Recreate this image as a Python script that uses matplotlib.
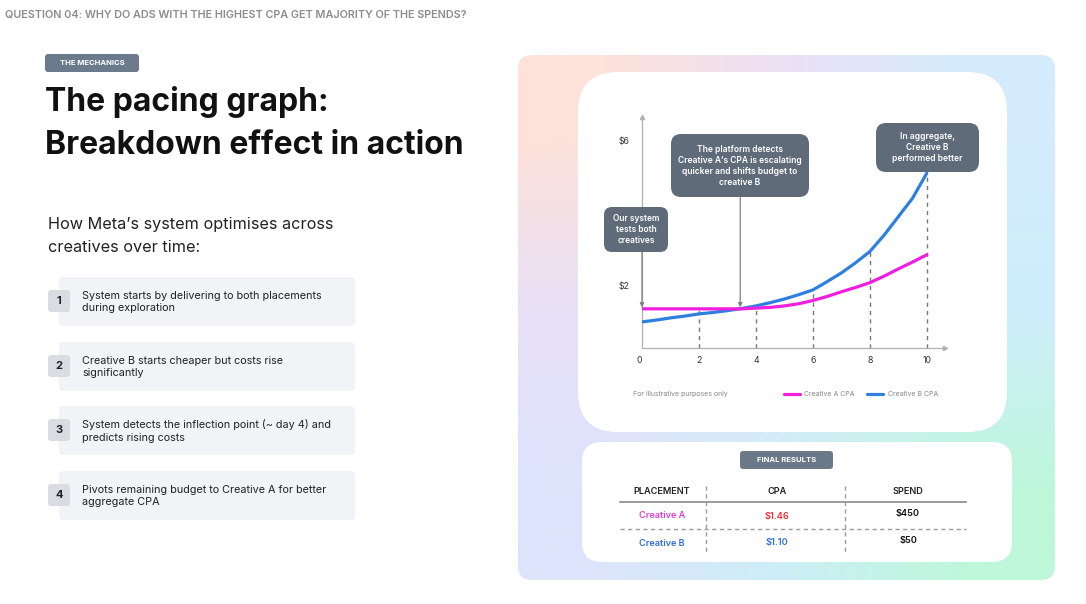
import matplotlib.pyplot as plt
import numpy as np
from matplotlib.patches import FancyBboxPatch

# ---- data ----
days = [0, 0.5, 1, 1.5, 2, 2.5, 3, 3.5, 4, 4.5, 5, 5.5, 6, 6.5, 7, 7.5, 8, 8.5, 9, 9.5, 10]
cpa_a = [1.36, 1.36, 1.36, 1.36, 1.36, 1.36, 1.36, 1.36, 1.38, 1.40, 1.44, 1.50, 1.59,
         1.70, 1.83, 1.95, 2.08, 2.26, 2.46, 2.65, 2.85]
cpa_b = [1.00, 1.05, 1.11, 1.16, 1.22, 1.26, 1.31, 1.37, 1.44, 1.53, 1.63, 1.75, 1.88,
         2.11, 2.35, 2.63, 2.94, 3.39, 3.90, 4.41, 5.10]
x_ticks = [0, 2, 4, 6, 8, 10]
y_ticks = [2, 6]
y_tick_labels = ['$2', '$6']
guide_days = [2, 4, 6, 8, 10]

placements = ['Creative A', 'Creative B']
final_cpa = [1.46, 1.10]
final_spend = [450, 50]

steps = [
    "System starts by delivering to both placements\nduring exploration",
    "Creative B starts cheaper but costs rise\nsignificantly",
    "System detects the inflection point (~ day 4) and\npredicts rising costs",
    "Pivots remaining budget to Creative A for better\naggregate CPA",
]

plt.rcParams['font.family'] = ['Inter', 'DejaVu Sans']

MAGENTA = '#f01fe0'
BLUE = '#2f7fe0'
BOXGRAY = '#5f6b79'

fig = plt.figure(figsize=(10.86, 6.04), dpi=100)
fig.patch.set_facecolor('white')


def pixel_axes(z):
    a = fig.add_axes([0, 0, 1, 1], zorder=z)
    a.set_xlim(0, 1086)
    a.set_ylim(604, 0)
    a.axis('off')
    a.patch.set_alpha(0)
    return a


# pixel-space canvases: bg below the chart, fg above it
bg = pixel_axes(0)
fg = pixel_axes(10)


def rbox(x0, y0, x1, y1, r, color, z=1, on=None):
    on = bg if on is None else on
    p = FancyBboxPatch((x0, y0), x1 - x0, y1 - y0,
                       boxstyle=f"round,pad=0,rounding_size={r}",
                       fc=color, ec='none', zorder=z)
    on.add_patch(p)
    return p


# ---- left side ----
bg.text(5, 14, "QUESTION 04: WHY DO ADS WITH THE HIGHEST CPA GET MAJORITY OF THE SPENDS?",
        fontsize=7.8, fontweight='semibold', color='#8c8c8c', va='center', ha='left')

rbox(45, 54, 139, 72, 3, '#6b7a8d')
bg.text(92, 63, "THE MECHANICS", fontsize=5.5, fontweight='bold', color='white',
        ha='center', va='center', zorder=3)

bg.text(45, 102, "The pacing graph:", fontsize=23, fontweight='bold', color='#111111',
        va='center', ha='left')
bg.text(45, 146, "Breakdown effect in action", fontsize=23, fontweight='bold',
        color='#111111', va='center', ha='left')

bg.text(48, 224, "How Meta\u2019s system optimises across", fontsize=11.7, color='#222222',
        va='center', ha='left')
bg.text(48, 248, "creatives over time:", fontsize=11.7, color='#222222',
        va='center', ha='left')

for i, s in enumerate(steps):
    top = [277, 342, 406, 471][i]
    rbox(59, top, 355, top + 49, 4, '#f1f3f6')
    rbox(48, top + 13, 70, top + 35, 3, '#d9dde3', z=2)
    bg.text(59, top + 24, str(i + 1), fontsize=8, fontweight='bold', color='#222222',
            ha='center', va='center', zorder=3)
    bg.text(82, top + 25, s, fontsize=7.8, color='#222222', ha='left', va='center',
            linespacing=1.35, zorder=3)

# ---- right panel gradient ----
grad = np.array([
    [[253, 226, 218], [236, 224, 246], [212, 236, 252]],
    [[232, 224, 248], [225, 234, 250], [205, 238, 250]],
    [[220, 228, 252], [204, 238, 247], [190, 247, 218]],
]) / 255.0
panel = rbox(518, 55, 1055, 580, 14, 'none')
im = bg.imshow(grad, extent=(518, 1055, 580, 55), interpolation='bilinear',
               aspect='auto', zorder=1)
im.set_clip_path(panel)

rbox(578, 72, 1007, 432, 40, 'white', z=2)
rbox(582, 442, 1012, 562, 20, 'white', z=2)

# ---- annotation boxes (drawn over the chart) ----
rbox(604, 207, 668, 252, 8, BOXGRAY, z=3, on=fg)
fg.text(636, 229.5, "Our system\ntests both\ncreatives", fontsize=6, fontweight='semibold',
        color='white', ha='center', va='center', linespacing=1.3, zorder=4)
rbox(671, 134, 809, 197, 10, BOXGRAY, z=3, on=fg)
fg.text(740, 166, "The platform detects\nCreative A\u2019s CPA is escalating\nquicker and shifts budget to\ncreative B",
        fontsize=6.1, fontweight='semibold', color='white', ha='center', va='center',
        linespacing=1.3, zorder=4)
rbox(876, 123, 979, 172, 10, BOXGRAY, z=3, on=fg)
fg.text(927.5, 147.5, "In aggregate,\nCreative B\nperformed better", fontsize=6.1,
        fontweight='semibold', color='white', ha='center', va='center', linespacing=1.3, zorder=4)

bg.text(633, 394, "For illustrative purposes only", fontsize=5, color='#888888',
        ha='left', va='center', zorder=4)

# ---- chart ----
x0p, x1p, ybp, ytp = 642, 945, 348, 117
ax = fig.add_axes([x0p / 1086, 1 - ybp / 604, (x1p - x0p) / 1086, (ybp - ytp) / 604], zorder=5)
ax.patch.set_alpha(0)
ax.set_xlim(0, 10.64)
ax.set_ylim(0.28, 6.65)
for side in ['top', 'right']:
    ax.spines[side].set_visible(False)
for side in ['left', 'bottom']:
    ax.spines[side].set_color('#b0b0b0')
    ax.spines[side].set_linewidth(0.9)
ax.plot(1, 0, '>', color='#b0b0b0', ms=3, transform=ax.transAxes, clip_on=False)
ax.plot(0, 1, '^', color='#b0b0b0', ms=3, transform=ax.transAxes, clip_on=False)

ax.set_xticks(x_ticks)
ax.set_xticklabels([str(t) for t in x_ticks])
ax.set_yticks(y_ticks)
ax.set_yticklabels(y_tick_labels)
ax.tick_params(length=0, labelsize=6.3, colors='#333333')
ax.tick_params(axis='x', pad=6)
ax.tick_params(axis='y', pad=9)
ax.get_xticklabels()[0].set_horizontalalignment('right')

top_vals = [max(cpa_a[days.index(d)], cpa_b[days.index(d)]) for d in guide_days]
ax.vlines(guide_days, 0.28, top_vals, colors='#777777', linestyles=(0, (3, 3)), lw=1.0)

line_a, = ax.plot(days, cpa_a, color=MAGENTA, lw=2.3, solid_capstyle='round',
                  label='Creative A CPA', zorder=4)
line_b, = ax.plot(days, cpa_b, color=BLUE, lw=2.3, solid_capstyle='round',
                  label='Creative B CPA', zorder=3)

arrow = dict(arrowstyle='-|>', color='#808080', lw=0.9, mutation_scale=6, shrinkA=0, shrinkB=0)
ax.annotate('', xy=(0, 1.40), xytext=(0, 2.93), arrowprops=arrow)
ax.annotate('', xy=(3.45, 1.40), xytext=(3.45, 4.45), arrowprops=arrow)

fig.legend(handles=[line_a, line_b], loc='center', bbox_to_anchor=(861 / 1086, 1 - 394 / 604),
           ncol=2, frameon=False, fontsize=5, handlelength=2.2, columnspacing=1.8,
           handletextpad=0.7, labelcolor='#888888')

# ---- final results table ----
rbox(740, 451, 833, 469, 3, '#6b7888', z=3)
bg.text(786.5, 460, "FINAL RESULTS", fontsize=5.5, fontweight='bold', color='white',
        ha='center', va='center', zorder=4)

col_x = [662, 777, 908]
for cx, h in zip(col_x, ['PLACEMENT', 'CPA', 'SPEND']):
    bg.text(cx, 491, h, fontsize=6.6, fontweight='semibold', color='#222222',
            ha='center', va='center', zorder=4)
bg.plot([620, 966], [502, 502], color='#8a8a8a', lw=1.2, zorder=3)
bg.plot([620, 966], [529, 529], color='#999999', lw=1.0, ls=(0, (3, 2.5)), zorder=3)
for vx in [706, 845]:
    bg.plot([vx, vx], [486, 553], color='#999999', lw=1.0, ls=(0, (3, 2.5)), zorder=3)

row_y = [516, 543]
name_colors = ['#e040d8', '#2e6fd8']
cpa_colors = ['#e8303a', '#2e6fd8']
for i in range(len(placements)):
    bg.text(col_x[0], row_y[i], placements[i], fontsize=6.6, fontweight='semibold',
            color=name_colors[i], ha='center', va='center', zorder=4)
    bg.text(col_x[1], row_y[i], f"${final_cpa[i]:.2f}", fontsize=6.6, fontweight='semibold',
            color=cpa_colors[i], ha='center', va='center', zorder=4)
    bg.text(col_x[2], row_y[i] - 2.5, f"${final_spend[i]}", fontsize=6.6, fontweight='semibold',
            color='#111111', ha='center', va='center', zorder=4)

fig.savefig('out.png', dpi=100)
